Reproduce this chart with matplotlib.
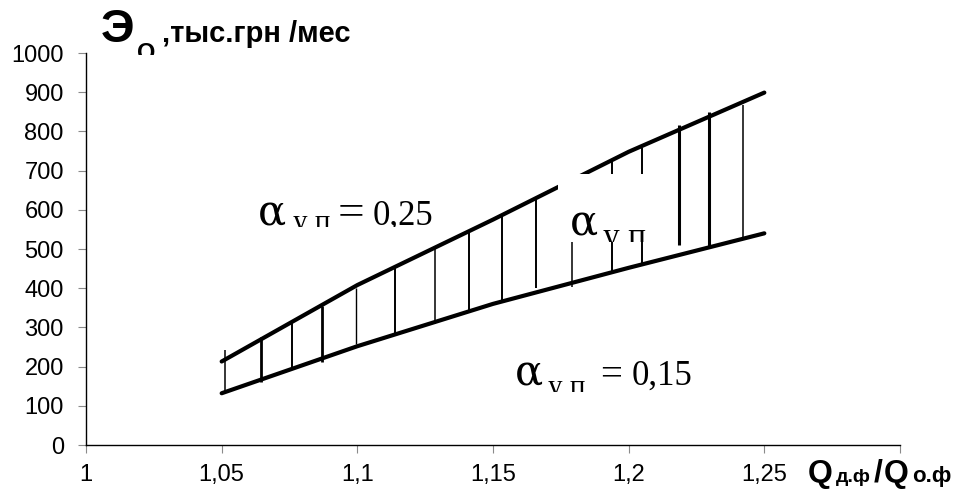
import matplotlib
matplotlib.use("Agg")
import matplotlib.pyplot as plt
from matplotlib.patches import Rectangle

# break points of the two boundary lines, Qд.ф/Qо.ф
ratio = [1.05, 1.10, 1.15, 1.20, 1.25]
# economic effect, тыс.грн /мес
effect_high = [213, 408, 575, 748, 899]   # alpha = 0,25
effect_low = [132, 252, 360, 452, 540]    # alpha = 0,15

# vertical hatch strokes between the two lines
hatch_x = [1.0512, 1.0645, 1.076, 1.087, 1.0994, 1.1139, 1.1288, 1.141,
           1.1534, 1.166, 1.179, 1.1937, 1.205, 1.2185, 1.2296, 1.242]
hatch_top = [242, 276, 312, 355, 400, 451, 502, 544,
             587, 630, 670, 723, 758, 816, 849, 867]
hatch_bottom = [132, 161, 196, 212, 257, 281, 309, 340,
                366, 400, 404, 439, 464, 510, 506, 531]

x_ticks = [1, 1.05, 1.1, 1.15, 1.2, 1.25, 1.3]
x_tick_labels = ["1", "1,05", "1,1", "1,15", "1,2", "1,25", ""]
y_ticks = list(range(0, 1001, 100))

# stroke widths of the hatching (pt)
HATCH_LW = [1.1, 2.0, 1.4, 2.0, 1.0, 1.4, 1.1, 1.4,
            1.4, 1.4, 1.1, 1.4, 1.4, 2.2, 2.2, 1.1]

SERIF = "Liberation Serif"
SYMBOL = "DejaVu Serif"
SANS = "Liberation Sans"


def boxed_label(ax, box, parts):
    """
    White box with label parts clipped to it.
    parts: (x, y, text, size, family)
    """
    x0, y0, x1, y1 = box
    rect = Rectangle((x0, y0), x1 - x0, y1 - y0, facecolor="white",
                     edgecolor="none", zorder=4)
    ax.add_patch(rect)

    for x, y, s, size, family in parts:
        t = ax.text(x, y, s, fontsize=size, family=family, ha="left",
                    va="baseline", zorder=5, clip_on=True)
        t.set_clip_path(rect)


def fig_text(fig, pieces, clip=None):
    for x, y, s, size, family in pieces:
        t = fig.text(x / 960, 1 - y / 493, s, fontsize=size, family=family,
                     fontweight="bold", ha="left", va="baseline",
                     clip_on=clip is not None)
        if clip is not None:
            t.set_clip_path(clip)


def create_graph():
    plt.rcParams["font.family"] = SANS

    fig = plt.figure(figsize=(9.6, 4.93), dpi=100)
    ax = fig.add_axes([86 / 960, 48 / 493, 814 / 960, 392 / 493])

    # hatching
    ax.vlines(hatch_x, hatch_bottom, hatch_top, colors="black",
              linewidths=HATCH_LW, zorder=2)

    # boundary lines
    ax.plot(ratio, effect_high, color="black", lw=3,
            solid_capstyle="round", zorder=3)
    ax.plot(ratio, effect_low, color="black", lw=3,
            solid_capstyle="round", zorder=3)

    ax.set_xlim(1, 1.3)
    ax.set_ylim(0, 1000)
    ax.set_xticks(x_ticks)
    ax.set_xticklabels(x_tick_labels)
    ax.set_yticks(y_ticks)

    for side in ["top", "right"]:
        ax.spines[side].set_visible(False)
    for side in ["left", "bottom"]:
        ax.spines[side].set_linewidth(1.0)

    ax.tick_params(axis="both", direction="out", length=6, width=0.8,
                   color="#8a8a8a", labelsize=17)
    ax.tick_params(axis="x", pad=8)
    ax.tick_params(axis="y", pad=10)

    # labels on the plot
    boxed_label(ax, (1.058, 555.4, 1.132, 640), [
        (1.0634, 561, "α", 30, SYMBOL),
        (1.0763, 549, "у п", 21, SERIF),
        (1.0929, 561, "=", 34, SERIF),
        (1.1058, 561, "0,25", 25, SERIF),
    ])
    boxed_label(ax, (1.152, 135, 1.228, 230), [
        (1.1581, 153, "α", 30, SYMBOL),
        (1.1702, 127, "у п", 21, SERIF),
        (1.1894, 153, "=", 28, SERIF),
        (1.2012, 153, "0,15", 25, SERIF),
    ])
    boxed_label(ax, (1.1739, 518, 1.2172, 691), [
        (1.1783, 536, "α", 30, SYMBOL),
        (1.1905, 508, "у п", 24, SERIF),
    ])

    # y axis title, bottom of it cut off
    clip = Rectangle((0, 438 / 493), 1, 55 / 493, transform=fig.transFigure)
    fig_text(fig, [
        (101, 42, "Э", 34, SANS),
        (137, 60, "О", 17, SANS),
        (162, 42, ",тыс.грн /мес", 21, SANS),
    ], clip)

    # x axis title
    fig_text(fig, [
        (808, 482, "Q", 23, SANS),
        (836, 482, "д.ф", 14, SANS),
        (874, 482, "/", 23, SANS),
        (884, 482, "Q", 23, SANS),
        (912, 482, "о.ф", 16, SANS),
    ])

    fig.savefig("out.png", dpi=100)


def main():
    create_graph()


if __name__ == "__main__":
    main()
